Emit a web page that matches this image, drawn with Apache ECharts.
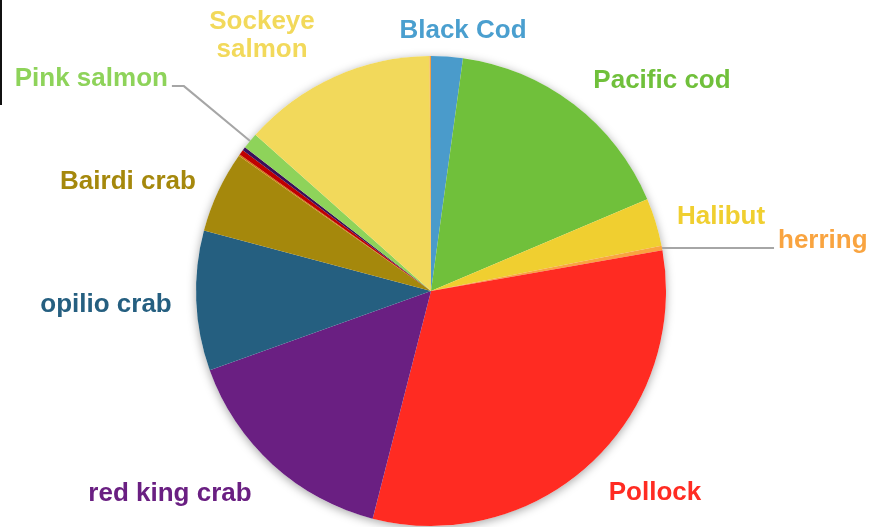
<!DOCTYPE html>
<html>
<head>
<meta charset="utf-8">
<script src="https://cdn.jsdelivr.net/npm/echarts@6/dist/echarts.min.js"></script>
<style>
  html, body { margin: 0; padding: 0; background: #fff; }
  #chart { width: 882px; height: 527px; }
</style>
</head>
<body>
<div id="chart"></div>
<script>
// Catch share by species (percent of total), clockwise from 12 o'clock
const species = ['Black Cod', 'Pacific cod', 'Halibut', 'herring', 'Pollock',
  'red king crab', 'opilio crab', 'Bairdi crab', 'golden king crab', 'Dungeness crab',
  'Tanner crab', 'Pink salmon', 'Sockeye salmon', 'Chum salmon'];
const shares = [2.17, 16.4, 3.3, 0.3, 31.7, 15.5, 9.6, 5.6, 0.1, 0.35, 0.25, 1.1, 13.3, 0.1];
const sliceColors = ['#4a9bcb', '#70c03b', '#f0cf30', '#f9a440', '#ff2b22',
  '#6a1f82', '#255f80', '#a5880c', '#d17a10', '#c00000', '#3a0f5a', '#8ed35a', '#f2d95b', '#f5a040'];
const labelText = ['Black Cod', 'Pacific cod', 'Halibut', 'herring', 'Pollock',
  'red king crab', 'opilio crab', 'Bairdi crab', '', '', '', 'Pink salmon', 'Sockeye\nsalmon', ''];
const labelColors = ['#4a9fcf', '#70c03b', '#f0cf30', '#f9a440', '#ff2b22',
  '#6a1f82', '#255f80', '#a5880c', '', '', '', '#8ed35a', '#f2d95b', ''];

// Fixed label anchors (centre of the text) for labels without leader lines
const labelAnchors = {
  0: [463, 31], 1: [662, 81], 2: [721, 217], 4: [655, 493],
  5: [170, 494], 6: [106, 305], 7: [128, 182], 12: [262, 36]
};

const center = [431, 291];
const radius = 235;

const leaderStyle = { color: '#a6a6a6', width: 2 };

const data = species.map((name, i) => {
  const item = {
    name: name,
    value: shares[i],
    itemStyle: { color: sliceColors[i] },
    label: { show: labelText[i] !== '', color: labelColors[i] },
    labelLine: { show: false }
  };
  if (name === 'herring') {
    item.labelLine = { show: true, length: 0, length2: 112, lineStyle: leaderStyle };
    item.label.formatter = '{up|herring}';
  }
  if (name === 'Pink salmon') {
    item.labelLine = { show: true, length: 86, length2: 12, lineStyle: leaderStyle };
    item.label.formatter = '{up|Pink salmon}';
  }
  return item;
});

const chart = echarts.init(document.getElementById('chart'), null, { renderer: 'canvas' });
chart.setOption({
  backgroundColor: '#ffffff',
  animation: false,
  graphic: [
    { type: 'rect', left: 0, top: 0, shape: { width: 2, height: 105 }, style: { fill: '#111' } }
  ],
  series: [
    {
      // soft drop shadow beneath the whole pie
      type: 'pie',
      silent: true,
      center: center,
      radius: radius,
      label: { show: false },
      labelLine: { show: false },
      itemStyle: {
        color: '#ffffff',
        shadowBlur: 10,
        shadowColor: 'rgba(0,0,0,0.35)',
        shadowOffsetX: 0,
        shadowOffsetY: 2
      },
      data: [{ value: 1 }],
      z: 1
    },
    {
      type: 'pie',
      center: center,
      radius: radius,
      startAngle: 90,
      clockwise: true,
      avoidLabelOverlap: false,
      minShowLabelAngle: 0,
      itemStyle: { borderWidth: 0 },
      label: {
        position: 'outside',
        formatter: p => labelText[p.dataIndex],
        fontFamily: 'Liberation Sans, Arial, sans-serif',
        fontWeight: 'bold',
        fontSize: 26,
        lineHeight: 28,
        align: 'center',
        distanceToLabelLine: 4,
        rich: {
          // text lifted slightly above its leader line
          up: {
            fontFamily: 'Liberation Sans, Arial, sans-serif',
            fontWeight: 'bold',
            fontSize: 26,
            lineHeight: 28,
            padding: [0, 0, 14, 0]
          }
        }
      },
      labelLayout: params => {
        const a = labelAnchors[params.dataIndex];
        if (!a) return {};
        return { x: a[0], y: a[1], align: 'center', verticalAlign: 'middle' };
      },
      data: data,
      z: 2
    }
  ]
});
</script>
</body>
</html>
